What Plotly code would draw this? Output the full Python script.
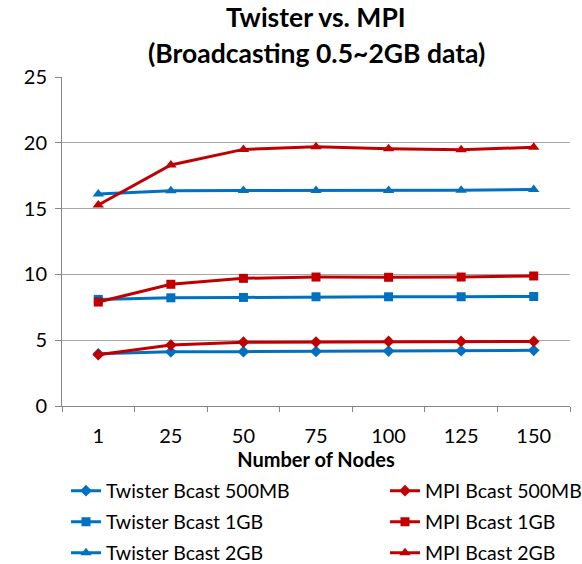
import plotly.graph_objects as go

nodes = ["1", "25", "50", "75", "100", "125", "150"]
twister_500mb = [3.97, 4.12, 4.13, 4.15, 4.17, 4.2, 4.23]
mpi_500mb = [3.9, 4.63, 4.85, 4.86, 4.91, 4.91, 4.91]
twister_1gb = [8.1, 8.22, 8.25, 8.3, 8.3, 8.3, 8.32]
mpi_1gb = [7.9, 9.25, 9.7, 9.8, 9.78, 9.8, 9.88]
twister_2gb = [16.1, 16.36, 16.38, 16.38, 16.38, 16.4, 16.45]
mpi_2gb = [15.27, 18.31, 19.5, 19.7, 19.55, 19.47, 19.66]

BLUE = "#0070C0"
RED = "#C00000"
FONT = "Lato"

series = [
    ("Twister Bcast 500MB", twister_500mb, BLUE, "diamond", 9, "legend"),
    ("MPI Bcast 500MB", mpi_500mb, RED, "diamond", 9, "legend2"),
    ("Twister Bcast 1GB", twister_1gb, BLUE, "square", 9, "legend3"),
    ("MPI Bcast 1GB", mpi_1gb, RED, "square", 9, "legend4"),
    ("Twister Bcast 2GB", twister_2gb, BLUE, "triangle-up", 10, "legend5"),
    ("MPI Bcast 2GB", mpi_2gb, RED, "triangle-up", 10, "legend6"),
]

fig = go.Figure()
for name, vals, color, sym, sz, lg in series:
    fig.add_trace(go.Scatter(
        x=nodes, y=vals, name=name, mode="lines+markers",
        line=dict(color=color, width=3),
        marker=dict(symbol=sym, size=sz, color=color),
        legend=lg,
    ))

PL, PR, PT, PB = 62, 570, 77, 406
def xpos(px):
    return (px - PL) / (PR - PL)
def ypos(py):
    return (PB - py) / (PB - PT)

def leg(xpx, ypx):
    return dict(orientation="h", xref="paper", yref="paper", x=xpos(xpx), y=ypos(ypx),
                xanchor="left", yanchor="middle",
                font=dict(family=FONT, size=19.5, color="#000000"),
                bgcolor="rgba(0,0,0,0)", borderwidth=0)

fig.update_layout(
    width=582, height=564,
    margin=dict(l=PL, r=582 - PR, t=PT, b=564 - PB, autoexpand=False),
    paper_bgcolor="white", plot_bgcolor="white",
    font=dict(family=FONT, size=20, color="#000000"),
    showlegend=True,
    legend=leg(66, 491), legend2=leg(385, 491),
    legend3=leg(66, 522), legend4=leg(385, 522),
    legend5=leg(66, 553), legend6=leg(385, 553),
    xaxis=dict(
        type="category", tickson="boundaries", ticks="outside", ticklen=5,
        tickcolor="#868686", showline=True, linecolor="#868686", linewidth=1,
        showgrid=False, tickfont=dict(family=FONT, size=20), ticklabelstandoff=12,
        title=dict(text="<b>Number of Nodes</b>", font=dict(family=FONT, size=20), standoff=4),
        range=[-0.5, 6.5],
    ),
    yaxis=dict(
        range=[0, 25], dtick=5, ticks="outside", ticklen=6, tickcolor="#868686",
        showline=True, linecolor="#868686", linewidth=1,
        showgrid=True, gridcolor="#A6A6A6", gridwidth=1, zeroline=False,
        tickfont=dict(family=FONT, size=20), ticklabelstandoff=4,
    ),
    annotations=[
        dict(text="<b>Twister vs. MPI</b>", xref="paper", yref="paper", x=0.5, y=ypos(17),
             xanchor="center", yanchor="middle", showarrow=False,
             font=dict(family=FONT, size=26.5, color="#000000")),
        dict(text="<b>(Broadcasting 0.5~2GB data)</b>", xref="paper", yref="paper", x=0.5, y=ypos(53),
             xanchor="center", yanchor="middle", showarrow=False,
             font=dict(family=FONT, size=26.5, color="#000000")),
    ],
)

fig.write_html("out.html")
